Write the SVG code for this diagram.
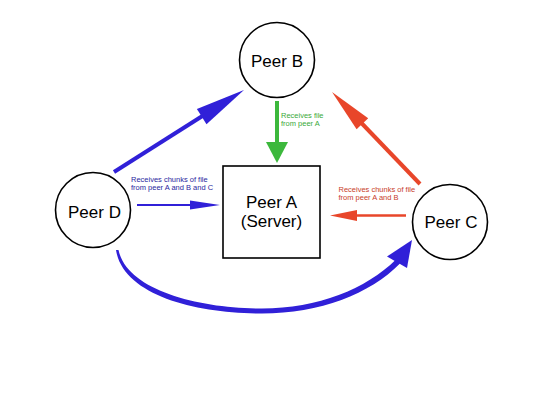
<svg xmlns="http://www.w3.org/2000/svg" width="540" height="405" viewBox="0 0 540 405">
<style>
.node{fill:#fff;stroke:#000;stroke-width:1.6}
.lbl{font-family:"Liberation Sans",Arial,sans-serif;font-size:17px;fill:#000;text-anchor:middle}
.sm{font-family:"Liberation Sans",Arial,sans-serif;font-size:7.5px}
.blue{fill:#3020d8}
.red{fill:#e8462a}
.green{fill:#3cb83c}
</style>
<rect width="540" height="405" fill="#fff"/>
<g id="connectors">
  <g id="d-to-b">
    <line x1="114" y1="172" x2="204" y2="115" stroke="#3020d8" stroke-width="4"/>
    <polygon class="blue" points="244,90 196.9,109.1 206.5,124.3"/>
  </g>
  <g id="a-to-b">
    <line x1="277" y1="101" x2="277" y2="143" stroke="#3cb83c" stroke-width="4"/>
    <polygon class="green" points="277,163 266,142 288,142"/>
    <text class="sm" fill="#3aaa3a" font-size="7.3" x="281" y="117.5">Receives file</text>
    <text class="sm" fill="#3aaa3a" font-size="7.3" x="281" y="125.5">from peer A</text>
  </g>
  <g id="c-to-b">
    <line x1="420" y1="184" x2="360" y2="121.5" stroke="#e8462a" stroke-width="4"/>
    <polygon class="red" points="332,92 368.2,118.3 356.6,129.3"/>
  </g>
  <g id="d-to-a">
    <line x1="137" y1="205" x2="193" y2="205" stroke="#3020d8" stroke-width="2"/>
    <polygon class="blue" points="220,205 190,200.5 190,209.5"/>
    <text class="sm" fill="#2a1fa0" x="131" y="181.5">Receives chunks of file</text>
    <text class="sm" fill="#2a1fa0" x="131" y="190">from peer A and B and C</text>
  </g>
  <g id="c-to-a">
    <line x1="406" y1="215.5" x2="354" y2="215.5" stroke="#e8462a" stroke-width="2.5"/>
    <polygon class="red" points="330,215.5 357,210 357,221"/>
    <text class="sm" fill="#c8402a" x="338.5" y="191.5">Receives chunks of file</text>
    <text class="sm" fill="#c8402a" x="338.5" y="199.5">from peer A and B</text>
  </g>
  <g id="d-to-c">
    <path class="blue" d="M116,250 C123,295 195,313.5 262,313.5 C320,313.5 370,294 400,263.5 L396,259.5 C366,289 318,308.5 262,308.5 C198,308.5 127,290 118.5,250 Z"/>
    <polygon class="blue" points="412,240 387,256.5 407,268"/>
  </g>
</g>
<g id="peerB">
  <circle class="node" cx="277" cy="60" r="37.5"/>
  <text class="lbl" x="277" y="66.5">Peer B</text>
</g>
<g id="peerD">
  <circle class="node" cx="93" cy="210" r="37.5"/>
  <text class="lbl" x="94.5" y="218">Peer D</text>
</g>
<g id="peerC">
  <circle class="node" cx="450" cy="222" r="37.5"/>
  <text class="lbl" x="451" y="228">Peer C</text>
</g>
<g id="peerA">
  <rect class="node" x="223" y="166" width="97" height="92"/>
  <text class="lbl" x="271.5" y="208">Peer A</text>
  <text class="lbl" x="271.5" y="227">(Server)</text>
</g>
</svg>
